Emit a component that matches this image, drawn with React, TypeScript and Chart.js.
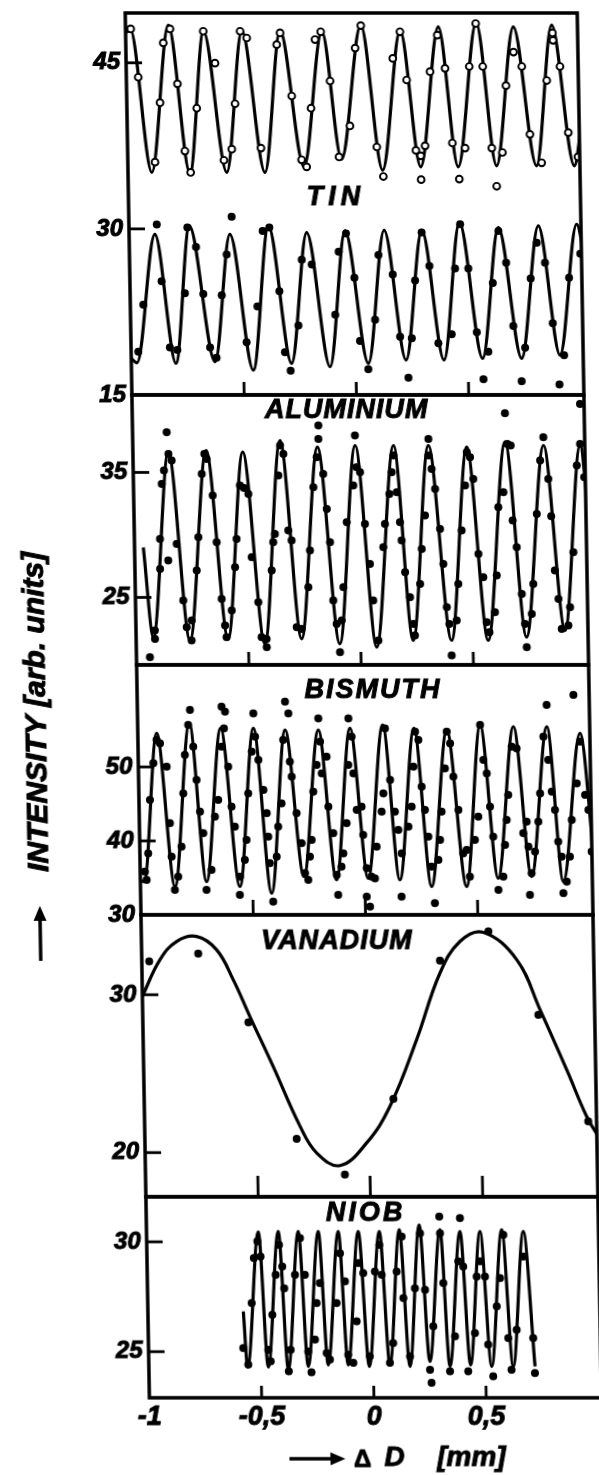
import React, { useEffect, useRef } from "react";
import { Chart, registerables } from "chart.js";

Chart.register(...registerables);

type P = [number, number];

// ---------------- x axis ----------------
const X_MIN = -1;
const X_MAX = 1.013;
const X_TICKS = [-1, -0.5, 0, 0.5];
const X_INNER_TICKS = [-0.5, 0, 0.5];

// ---------------- panel ranges and ticks ----------------
const TIN_RANGE = [15, 49.5];
const TIN_TICKS = [15, 30, 45];
const AL_RANGE = [19.6, 41.2];
const AL_TICKS = [25, 35];
const BI_RANGE = [30, 63.8];
const BI_TICKS = [30, 40, 50];
const V_RANGE = [17.2, 35.06];
const V_TICKS = [20, 30];
const NB_RANGE = [22.9, 32.05];
const NB_TICKS = [25, 30];

const PANEL_NAMES = ["TIN", "ALUMINIUM", "BISMUTH", "VANADIUM", "NIOB"];
const Y_TITLE = "INTENSITY [arb. units]";
const X_TITLE_DELTA = "\u0394";
const X_TITLE_D = "D";
const X_TITLE_UNIT = "[mm]";

// ---------------- TIN (upper curve, open circles) ----------------
const TIN_UPPER_FIT: P[] = [
  [-1.0, 47.7], [-0.978, 48.0], [-0.894, 35.1], [-0.809, 48.4], [-0.724, 35.0], [-0.653, 47.85],
  [-0.56, 35.1], [-0.482, 47.9], [-0.39, 35.1], [-0.312, 47.9], [-0.216, 35.6], [-0.126, 47.85],
  [-0.048, 36.3], [0.048, 48.4], [0.134, 35.3], [0.223, 47.9], [0.304, 35.6], [0.393, 48.25],
  [0.471, 35.6], [0.562, 48.6], [0.642, 35.7], [0.727, 48.25], [0.82, 35.7], [0.898, 48.4],
  [0.988, 35.7], [1.03, 40.5],
];
const TIN_UPPER_PTS: P[] = [
  [-0.977, 48.06], [-0.947, 43.7], [-0.879, 36.03], [-0.852, 41.4], [-0.833, 46.8], [-0.802, 48.06],
  [-0.773, 43.1], [-0.745, 37.03], [-0.721, 35.1], [-0.689, 40.9], [-0.654, 47.85], [-0.604, 44.97],
  [-0.572, 36.2], [-0.536, 37.2], [-0.518, 41.3], [-0.49, 47.85], [-0.461, 47.24], [-0.406, 37.3],
  [-0.328, 46.64], [-0.312, 47.7], [-0.265, 42.0], [-0.226, 36.24], [-0.204, 35.6], [-0.18, 40.9],
  [-0.157, 47.1], [-0.131, 47.8], [-0.093, 43.36], [-0.059, 36.5], [-0.008, 39.3], [0.021, 46.33],
  [0.048, 48.36], [0.11, 37.4], [0.137, 34.73], [0.188, 45.4], [0.222, 47.8], [0.248, 43.45],
  [0.284, 37.09], [0.305, 36.6], [0.325, 37.5], [0.305, 34.45], [0.353, 44.2], [0.388, 47.5],
  [0.42, 44.5], [0.447, 37.76], [0.475, 34.5], [0.503, 37.3], [0.528, 44.67], [0.56, 48.55],
  [0.588, 44.67], [0.622, 37.3], [0.641, 33.85], [0.669, 36.9], [0.69, 42.94], [0.726, 45.97],
  [0.762, 44.67], [0.793, 38.54], [0.843, 35.97], [0.872, 43.4], [0.901, 47.7], [0.903, 47.03],
  [0.932, 44.67], [0.964, 38.7], [1.005, 36.5],
];

// ---------------- TIN (lower curve, filled dots) ----------------
const TIN_LOWER_FIT: P[] = [
  [-1.0, 18.3], [-0.975, 17.9], [-0.885, 29.5], [-0.801, 17.85], [-0.731, 30.27], [-0.627, 18.0],
  [-0.551, 29.5], [-0.457, 17.24], [-0.379, 30.27], [-0.286, 17.85], [-0.209, 29.67], [-0.115, 17.55],
  [-0.038, 29.82], [0.056, 17.85], [0.136, 29.88], [0.224, 18.15], [0.304, 29.88], [0.393, 18.15],
  [0.472, 30.58], [0.565, 18.3], [0.645, 30.12], [0.739, 18.3], [0.823, 30.27], [0.91, 18.6],
  [0.994, 30.42], [1.03, 27.0],
];
const TIN_LOWER_PTS: P[] = [
  [-0.968, 18.9], [-0.942, 23.15], [-0.876, 30.4], [-0.859, 25.27], [-0.827, 19.3], [-0.794, 19.06],
  [-0.756, 24.2], [-0.74, 30.12], [-0.703, 28.36], [-0.674, 24.12], [-0.648, 19.3], [-0.62, 18.36],
  [-0.592, 24.0], [-0.567, 27.7], [-0.542, 31.09], [-0.485, 19.76], [-0.434, 23.0], [-0.405, 29.82],
  [-0.375, 30.12], [-0.335, 24.36], [-0.315, 18.85], [-0.291, 17.18], [-0.253, 21.27], [-0.233, 27.21],
  [-0.189, 26.79], [-0.088, 22.24], [-0.068, 27.94], [-0.034, 29.58], [0.0, 25.58], [0.02, 19.88],
  [0.055, 17.33], [0.089, 21.79], [0.109, 27.64], [0.171, 25.88], [0.199, 20.27], [0.233, 16.55],
  [0.251, 20.12], [0.27, 25.33], [0.303, 29.67], [0.335, 26.64], [0.369, 19.67], [0.429, 20.48],
  [0.449, 26.42], [0.475, 30.42], [0.508, 26.42], [0.541, 20.67], [0.567, 16.42], [0.591, 18.9],
  [0.616, 25.12], [0.645, 29.82], [0.677, 26.94], [0.704, 21.24], [0.737, 16.24], [0.755, 19.27],
  [0.785, 25.52], [0.815, 28.76], [0.85, 26.94], [0.88, 21.48], [0.905, 15.94], [0.928, 18.6],
  [0.956, 25.58], [1.008, 27.76],
];

// ---------------- ALUMINIUM ----------------
const AL_FIT: P[] = [
  [-0.961, 29.0], [-0.923, 21.83], [-0.842, 36.63], [-0.76, 21.56], [-0.674, 36.76], [-0.59, 21.69],
  [-0.511, 36.63], [-0.427, 21.29], [-0.344, 37.56], [-0.263, 21.69], [-0.178, 37.03], [-0.093, 21.29],
  [-0.01, 37.16], [0.071, 21.03], [0.161, 37.16], [0.234, 21.56], [0.316, 37.16], [0.405, 21.56],
  [0.487, 37.03], [0.568, 21.56], [0.658, 37.43], [0.739, 21.83], [0.829, 37.16], [0.911, 22.36],
  [0.992, 37.16], [1.03, 30.0],
];
const AL_PTS: P[] = [
  [-0.94, 20.23], [-0.848, 38.23], [-0.851, 27.96], [-0.172, 38.76], [-0.173, 37.69], [-0.01, 37.96],
  [0.317, 37.69], [0.66, 39.75], [0.829, 37.83], [0.995, 40.49], [-0.093, 20.63], [0.404, 20.36],
  [0.739, 21.03],
  [-0.916, 22.36], [-0.916, 21.69], [-0.888, 27.29], [-0.886, 29.69], [-0.874, 34.09], [-0.863, 35.16],
  [-0.842, 36.49], [-0.828, 35.96], [-0.812, 29.29], [-0.787, 24.76], [-0.774, 22.63], [-0.753, 21.56],
  [-0.751, 23.16], [-0.725, 27.16], [-0.715, 29.83], [-0.695, 34.89], [-0.682, 36.49], [-0.672, 36.09],
  [-0.648, 33.16], [-0.634, 29.43], [-0.616, 24.89], [-0.603, 22.76], [-0.597, 21.83], [-0.572, 23.96],
  [-0.554, 27.43], [-0.545, 29.69], [-0.526, 33.96], [-0.508, 33.77], [-0.489, 33.29], [-0.479, 28.23],
  [-0.453, 24.63], [-0.441, 21.83], [-0.419, 21.03], [-0.419, 21.69], [-0.391, 27.16], [-0.382, 29.43],
  [-0.374, 30.09], [-0.354, 34.76], [-0.344, 37.16], [-0.33, 36.49], [-0.314, 30.36], [-0.3, 29.56],
  [-0.284, 22.63], [-0.262, 22.49], [-0.229, 25.83], [-0.219, 28.76], [-0.199, 33.83], [-0.182, 36.23],
  [-0.154, 34.89], [-0.141, 32.09], [-0.129, 29.43], [-0.119, 24.76], [-0.106, 22.89], [-0.083, 23.16],
  [-0.073, 25.83], [-0.053, 31.03], [-0.021, 33.96], [-0.005, 35.43], [0.01, 35.03], [0.028, 30.89],
  [0.047, 27.69], [0.059, 24.76], [0.079, 21.56], [0.108, 29.03], [0.117, 30.89], [0.139, 33.29],
  [0.151, 35.03], [0.16, 36.36], [0.172, 33.43], [0.184, 31.03], [0.19, 29.56], [0.203, 27.03],
  [0.223, 25.03], [0.236, 22.89], [0.242, 21.96], [0.269, 26.09], [0.279, 28.89], [0.296, 31.56],
  [0.316, 36.36], [0.329, 35.29], [0.343, 33.69], [0.362, 30.49], [0.374, 27.69], [0.386, 24.23],
  [0.396, 22.89], [0.429, 23.16], [0.439, 26.09], [0.458, 30.36], [0.477, 33.96], [0.487, 36.63],
  [0.501, 36.23], [0.514, 34.49], [0.531, 28.49], [0.551, 26.63], [0.562, 23.03], [0.574, 22.23],
  [0.6, 23.83], [0.611, 26.76], [0.623, 32.23], [0.647, 33.43], [0.668, 37.29], [0.683, 37.16],
  [0.686, 31.16], [0.702, 29.03], [0.721, 25.29], [0.733, 22.89], [0.764, 23.69], [0.773, 26.09],
  [0.794, 31.69], [0.813, 35.96], [0.848, 34.49], [0.858, 31.5], [0.87, 27.16], [0.884, 24.89],
  [0.896, 22.49], [0.926, 22.76], [0.935, 24.23], [0.954, 28.63], [0.976, 35.56], [0.992, 37.29],
  [1.008, 34.63],
];

// ---------------- BISMUTH ----------------
const BI_FIT: P[] = [
  [-0.995, 34.6], [-0.983, 34.5], [-0.916, 54.55], [-0.846, 33.83], [-0.77, 55.9], [-0.705, 34.5],
  [-0.631, 55.23], [-0.557, 33.83], [-0.485, 55.23], [-0.416, 32.93], [-0.344, 55.0], [-0.271, 35.18],
  [-0.196, 55.0], [-0.126, 34.73], [-0.055, 55.23], [0.015, 34.95], [0.091, 55.68], [0.156, 34.73],
  [0.23, 55.23], [0.297, 33.83], [0.376, 55.0], [0.453, 33.83], [0.525, 55.68], [0.594, 34.95],
  [0.673, 55.45], [0.743, 35.18], [0.822, 55.45], [0.884, 34.5], [0.969, 54.55], [1.03, 34.0],
];
const BI_PTS: P[] = [
  [-0.766, 57.7], [-0.625, 58.15], [-0.61, 57.48], [-0.484, 57.25], [-0.342, 58.83], [-0.328, 57.25],
  [-0.195, 56.58], [-0.061, 56.58], [0.823, 58.38], [0.943, 59.73], [-0.41, 31.8], [-0.12, 32.7],
  [0.007, 32.48], [0.021, 31.13], [0.162, 32.48], [0.31, 31.58], [0.594, 33.38], [0.734, 32.7],
  [0.883, 32.93], [-0.847, 33.38], [-0.706, 33.38], [-0.558, 32.7],
  [-0.979, 35.86], [-0.972, 34.73], [-0.963, 38.33], [-0.951, 45.54], [-0.933, 50.5], [-0.917, 53.65],
  [-0.902, 53.2], [-0.874, 50.05], [-0.864, 42.39], [-0.859, 37.88], [-0.831, 35.18], [-0.814, 39.23],
  [-0.802, 46.44], [-0.792, 51.62], [-0.775, 55.68], [-0.754, 52.75], [-0.742, 48.24], [-0.729, 43.96],
  [-0.716, 41.04], [-0.682, 36.08], [-0.663, 43.29], [-0.647, 45.54], [-0.628, 52.75], [-0.616, 55.23],
  [-0.6, 50.05], [-0.588, 44.64], [-0.575, 41.94], [-0.556, 35.18], [-0.533, 37.43], [-0.524, 40.14],
  [-0.513, 46.44], [-0.494, 52.07], [-0.478, 54.1], [-0.465, 50.95], [-0.445, 46.89], [-0.432, 43.74],
  [-0.427, 40.59], [-0.422, 36.98], [-0.391, 37.88], [-0.382, 41.94], [-0.365, 45.09], [-0.353, 53.65],
  [-0.325, 50.72], [-0.318, 48.69], [-0.299, 43.74], [-0.279, 39.69], [-0.266, 35.63], [-0.252, 34.73],
  [-0.243, 37.88], [-0.234, 40.14], [-0.223, 46.67], [-0.206, 50.27], [-0.189, 53.42], [-0.184, 49.14],
  [-0.161, 51.4], [-0.157, 44.64], [-0.137, 41.04], [-0.125, 35.41], [-0.103, 36.53], [-0.094, 38.33],
  [-0.077, 42.39], [-0.065, 50.27], [-0.048, 54.1], [-0.043, 49.14], [-0.031, 44.19], [-0.009, 44.64],
  [-0.004, 40.81], [0.009, 36.31], [0.03, 35.18], [0.045, 34.95], [0.055, 39.23], [0.08, 43.96],
  [0.089, 46.44], [0.101, 55.23], [0.12, 48.24], [0.139, 43.96], [0.153, 41.49], [0.166, 38.33],
  [0.198, 41.94], [0.214, 44.64], [0.225, 50.05], [0.235, 54.78], [0.249, 53.65], [0.26, 47.34],
  [0.273, 44.19], [0.286, 40.59], [0.298, 36.53], [0.329, 37.43], [0.338, 40.14], [0.347, 43.96],
  [0.365, 49.82], [0.376, 54.78], [0.39, 53.2], [0.402, 48.69], [0.422, 44.19], [0.44, 38.33],
  [0.456, 38.78], [0.468, 35.18], [0.493, 40.14], [0.51, 43.29], [0.525, 55.68], [0.537, 50.95],
  [0.551, 49.14], [0.563, 44.64], [0.575, 40.59], [0.617, 35.18], [0.627, 39.46], [0.636, 42.84],
  [0.645, 46.22], [0.664, 52.75], [0.686, 52.52], [0.709, 41.04], [0.725, 42.61], [0.731, 39.23],
  [0.743, 35.63], [0.76, 38.56], [0.777, 42.61], [0.787, 46.44], [0.806, 54.1], [0.826, 50.95],
  [0.839, 46.67], [0.852, 44.19], [0.864, 39.91], [0.878, 37.88], [0.899, 34.5], [0.915, 37.88],
  [0.926, 42.84], [0.951, 47.79], [0.969, 53.42], [0.987, 46.22], [1.001, 44.19], [1.012, 38.56],
];

// ---------------- VANADIUM ----------------
const V_FIT: P[] = [
  [-1.0, 29.9], [-0.919, 32.22], [-0.843, 33.38], [-0.754, 33.69], [-0.666, 32.85], [-0.594, 30.95],
  [-0.523, 28.63], [-0.423, 25.46], [-0.308, 21.67], [-0.236, 19.98], [-0.133, 19.18], [-0.013, 20.61],
  [0.094, 22.93], [0.218, 27.15], [0.327, 31.37], [0.419, 33.38], [0.523, 33.95], [0.67, 32.22],
  [0.77, 29.05], [0.884, 25.25], [0.969, 22.3], [1.02, 21.0],
];
const V_PTS: P[] = [
  [-0.967, 32.11], [-0.748, 32.6], [-0.53, 28.25], [-0.324, 20.87], [-0.112, 18.61], [0.11, 23.4],
  [0.328, 32.17], [0.546, 34.01], [0.762, 28.73], [0.976, 21.98],
];

// ---------------- NIOB ----------------
const NB_FIT: P[] = [
  [-0.575, 26.83], [-0.56, 24.3], [-0.502, 30.45], [-0.468, 24.3], [-0.413, 30.47], [-0.379, 24.2],
  [-0.324, 30.47], [-0.29, 24.33], [-0.235, 30.47], [-0.201, 24.4], [-0.146, 30.47], [-0.112, 24.4],
  [-0.057, 30.47], [-0.018, 24.33], [0.037, 30.47], [0.074, 24.4], [0.126, 30.55], [0.163, 24.33],
  [0.215, 30.77], [0.252, 24.55], [0.307, 30.55], [0.341, 24.33], [0.396, 30.47], [0.433, 24.4],
  [0.485, 30.47], [0.527, 24.33], [0.582, 30.55], [0.623, 24.33], [0.678, 30.47], [0.72, 24.33],
];
const NB_PTS: P[] = [
  [-0.578, 25.17], [-0.557, 24.41], [-0.537, 27.21], [-0.524, 29.26], [-0.507, 30.02], [-0.494, 29.33],
  [-0.467, 25.09], [-0.457, 24.56], [-0.446, 26.68], [-0.428, 28.5], [-0.411, 29.86], [-0.398, 28.88],
  [-0.391, 27.89], [-0.377, 24.11], [-0.367, 25.09], [-0.342, 28.5], [-0.317, 30.17], [-0.298, 28.5],
  [-0.289, 25.01], [-0.276, 24.06], [-0.258, 25.55], [-0.248, 27.21], [-0.232, 28.12], [-0.207, 24.94],
  [-0.193, 24.64], [-0.159, 27.21], [-0.14, 29.48], [-0.12, 28.2], [-0.111, 24.86], [-0.089, 24.49],
  [-0.071, 26.38], [-0.059, 29.03], [-0.038, 28.58], [-0.015, 24.79], [0.014, 28.65], [0.036, 29.86],
  [0.044, 28.5], [0.074, 24.49], [0.09, 25.39], [0.111, 28.65], [0.136, 30.24], [0.139, 27.44],
  [0.164, 24.79], [0.191, 27.89], [0.218, 30.39], [0.236, 27.82], [0.252, 24.18], [0.258, 23.58],
  [0.27, 26.15], [0.307, 30.39], [0.305, 31.15], [0.318, 28.12], [0.341, 24.11], [0.366, 25.7],
  [0.386, 29.11], [0.397, 31.08], [0.408, 28.88], [0.422, 24.11], [0.455, 25.85], [0.467, 28.42],
  [0.483, 29.11], [0.504, 28.42], [0.513, 25.32], [0.533, 23.88], [0.554, 27.06], [0.571, 28.35],
  [0.589, 30.32], [0.603, 25.62], [0.615, 24.18], [0.641, 26.0], [0.676, 29.33], [0.714, 25.62],
  [0.719, 24.03],
];

// ---------------- styling / layout ----------------
const FAMILY = '"Liberation Sans", "DejaVu Sans", sans-serif';
const INK = "#000";

// panels, top to bottom
const PANELS = [
  { id: "ySn", range: TIN_RANGE, ticks: TIN_TICKS, h: 382, xTick: 13, name: PANEL_NAMES[0], lx: 330, ly: 198, sp: 5 },
  { id: "yAl", range: AL_RANGE, ticks: AL_TICKS, h: 270, xTick: 13, name: PANEL_NAMES[1], lx: 339, ly: 411, sp: 1 },
  { id: "yBi", range: BI_RANGE, ticks: BI_TICKS, h: 250, xTick: 15, name: PANEL_NAMES[2], lx: 360, ly: 691, sp: 2 },
  { id: "yV", range: V_RANGE, ticks: V_TICKS, h: 282, xTick: 21, name: PANEL_NAMES[3], lx: 320, ly: 942, sp: 1 },
  { id: "yNb", range: NB_RANGE, ticks: NB_TICKS, h: 201, xTick: 12, name: PANEL_NAMES[4], lx: 343, ly: 1214, sp: 3 },
];

const toXY = (a: P[]) => a.map(([x, y]) => ({ x, y }));

const fitSet = (d: P[], axis: string, smoothSpline = false) => ({
  data: toXY(d),
  yAxisID: axis,
  showLine: true,
  borderColor: INK,
  borderWidth: 3.2,
  pointRadius: 0,
  pointHoverRadius: 0,
  cubicInterpolationMode: smoothSpline ? "default" : "monotone",
  tension: smoothSpline ? 0.4 : 0,
  fill: false,
  order: 2,
});

const dotSet = (d: P[], axis: string, open = false) => ({
  data: toXY(d),
  yAxisID: axis,
  showLine: false,
  pointRadius: open ? 3.4 : 4,
  pointHoverRadius: open ? 3.4 : 4,
  pointBackgroundColor: open ? "#fff" : INK,
  pointBorderColor: INK,
  pointBorderWidth: open ? 1.9 : 0,
  order: 1,
});

const drawArrow = (ctx: CanvasRenderingContext2D, x0: number, y0: number, x1: number, y1: number) => {
  const ang = Math.atan2(y1 - y0, x1 - x0);
  const head = 15;
  const half = 6.5;
  ctx.beginPath();
  ctx.lineWidth = 3.5;
  ctx.moveTo(x0, y0);
  ctx.lineTo(x1 - head * Math.cos(ang), y1 - head * Math.sin(ang));
  ctx.stroke();
  ctx.beginPath();
  ctx.moveTo(x1, y1);
  ctx.lineTo(x1 - head * Math.cos(ang) + half * Math.sin(ang), y1 - head * Math.sin(ang) - half * Math.cos(ang));
  ctx.lineTo(x1 - head * Math.cos(ang) - half * Math.sin(ang), y1 - head * Math.sin(ang) + half * Math.cos(ang));
  ctx.closePath();
  ctx.fill();
};

const boldText = (ctx: CanvasRenderingContext2D, s: string, x: number, y: number) => {
  ctx.lineWidth = 1;
  ctx.strokeText(s, x, y);
  ctx.fillText(s, x, y);
};

const framePlugin = {
  id: "panelFrames",
  afterDatasetsDraw(chart: any) {
    const { ctx, chartArea } = chart;
    const xs = chart.scales.x;
    ctx.save();
    ctx.strokeStyle = INK;
    ctx.lineCap = "butt";
    for (const p of PANELS) {
      const s = chart.scales[p.id];
      ctx.lineWidth = 3.5;
      ctx.strokeRect(chartArea.left, s.top, chartArea.right - chartArea.left, s.bottom - s.top);
      ctx.lineWidth = 2.8;
      for (const v of p.ticks) {
        const py = s.getPixelForValue(v);
        if (py <= s.top + 2 || py >= s.bottom - 2) continue;
        ctx.beginPath();
        ctx.moveTo(chartArea.left, py);
        ctx.lineTo(chartArea.left + 16, py);
        ctx.stroke();
      }
      for (const v of X_INNER_TICKS) {
        const px = xs.getPixelForValue(v);
        ctx.beginPath();
        ctx.moveTo(px, s.bottom);
        ctx.lineTo(px, s.bottom - p.xTick);
        ctx.stroke();
      }
    }
    ctx.restore();
  },
  afterDraw(chart: any) {
    const { ctx } = chart;
    ctx.save();
    ctx.fillStyle = INK;
    ctx.strokeStyle = INK;
    ctx.textAlign = "center";
    ctx.textBaseline = "middle";
    for (const p of PANELS) {
      ctx.font = `italic bold 27px ${FAMILY}`;
      (ctx as any).letterSpacing = `${p.sp}px`;
      boldText(ctx, p.name, p.lx + p.sp / 2, p.ly);
    }
    (ctx as any).letterSpacing = "0px";
    // x title
    ctx.font = `bold 24px ${FAMILY}`;
    boldText(ctx, X_TITLE_DELTA, 337, 1460);
    ctx.font = `italic bold 28px ${FAMILY}`;
    boldText(ctx, X_TITLE_D, 369, 1458);
    boldText(ctx, X_TITLE_UNIT, 446, 1458);
    drawArrow(ctx, 264, 1459, 320, 1459);
    // y title
    ctx.save();
    ctx.translate(25, 872);
    ctx.rotate(-Math.PI / 2);
    ctx.textAlign = "left";
    ctx.font = `italic bold 30px ${FAMILY}`;
    boldText(ctx, Y_TITLE, 0, 0);
    ctx.restore();
    drawArrow(ctx, 24, 961, 24, 906);
    ctx.restore();
  },
};

const fmt = (v: number) => (v === 0 ? "0" : String(v).replace(".", ","));

const yScale = (p: (typeof PANELS)[number]) => ({
  type: "linear",
  position: "left",
  stack: "panels",
  stackWeight: p.h,
  min: p.range[0],
  max: p.range[1],
  grid: { display: false, drawTicks: false },
  border: { display: false },
  afterBuildTicks: (s: any) => {
    s.ticks = p.ticks.map((v) => ({ value: v }));
  },
  afterFit: (s: any) => {
    s.width = 125;
    s.paddingTop = 0;
    s.paddingBottom = 0;
  },
  ticks: {
    autoSkip: false,
    padding: 6,
    color: INK,
    textStrokeColor: INK,
    textStrokeWidth: 1,
    font: { family: FAMILY, size: 24, style: "italic", weight: "bold" },
    callback: (v: number) => fmt(v),
  },
});

export default function App() {
  const ref = useRef<HTMLCanvasElement>(null);

  useEffect(() => {
    if (!ref.current) return;
    const scales: any = {
      x: {
        type: "linear",
        position: "bottom",
        min: X_MIN,
        max: X_MAX,
        grid: { display: false, drawTicks: false },
        border: { display: false },
        afterBuildTicks: (s: any) => {
          s.ticks = X_TICKS.map((v) => ({ value: v }));
        },
        afterFit: (s: any) => {
          s.height = 77;
          s.paddingLeft = 0;
          s.paddingRight = 0;
        },
        ticks: {
          autoSkip: false,
          maxRotation: 0,
          padding: 3,
          color: INK,
          textStrokeColor: INK,
          textStrokeWidth: 1,
          font: { family: FAMILY, size: 27, style: "italic", weight: "bold" },
          callback: (v: number) => fmt(v),
        },
      },
    };
    // later-defined stacked axes are placed on top: define bottom panel first
    [...PANELS].reverse().forEach((p) => {
      scales[p.id] = yScale(p);
    });

    const chart = new Chart(ref.current, {
      type: "scatter",
      data: {
        datasets: [
          dotSet(TIN_UPPER_PTS, "ySn", true),
          dotSet(TIN_LOWER_PTS, "ySn"),
          dotSet(AL_PTS, "yAl"),
          dotSet(BI_PTS, "yBi"),
          dotSet(V_PTS, "yV"),
          dotSet(NB_PTS, "yNb"),
          fitSet(TIN_UPPER_FIT, "ySn"),
          fitSet(TIN_LOWER_FIT, "ySn"),
          fitSet(AL_FIT, "yAl"),
          fitSet(BI_FIT, "yBi"),
          fitSet(V_FIT, "yV", true),
          fitSet(NB_FIT, "yNb"),
        ] as any,
      },
      options: {
        responsive: false,
        animation: false,
        devicePixelRatio: 1,
        events: [],
        layout: { padding: { left: 0, right: 22, top: 13, bottom: 0 } },
        plugins: { legend: { display: false }, tooltip: { enabled: false }, title: { display: false } },
        scales,
      } as any,
      plugins: [framePlugin],
    });
    return () => chart.destroy();
  }, []);

  return (
    <div
      style={{
        position: "absolute",
        left: 0,
        top: 0,
        width: 599,
        height: 1475,
        overflow: "hidden",
        background: "#fff",
      }}
    >
      <div style={{ width: 599, height: 1475, transform: "skewX(1deg)", transformOrigin: "0 0" }}>
        <canvas ref={ref} width={599} height={1475} style={{ display: "block", width: 599, height: 1475 }} />
      </div>
    </div>
  );
}
